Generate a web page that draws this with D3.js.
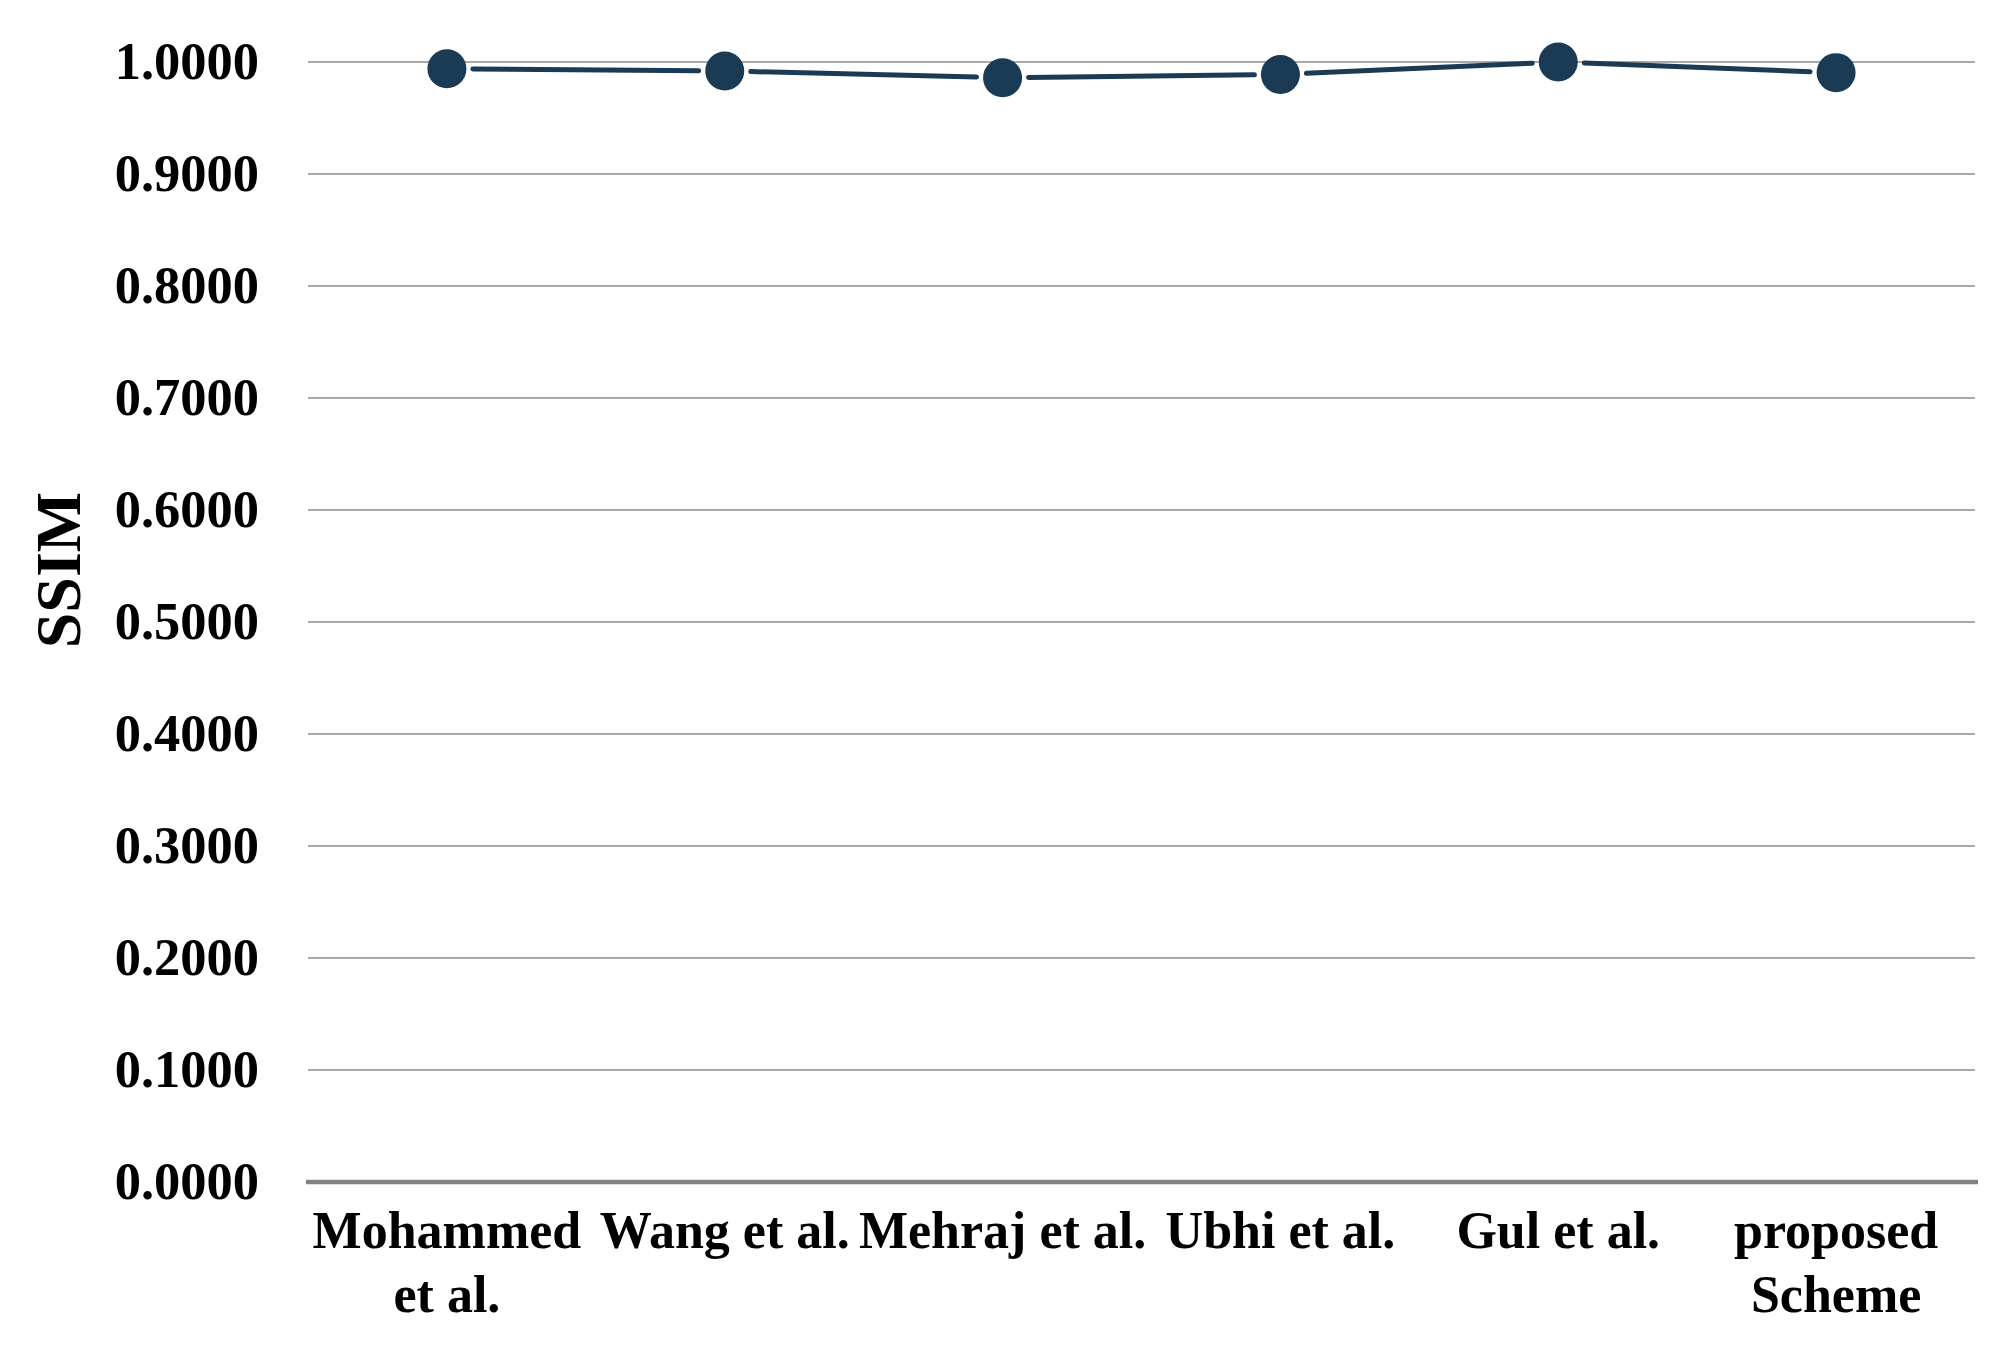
<!DOCTYPE html>
<html>
<head>
<meta charset="utf-8">
<script src="https://cdn.jsdelivr.net/npm/d3@7"></script>
<style>
  html, body { margin: 0; padding: 0; background: #ffffff; }
  svg { display: block; }
</style>
</head>
<body>
<script>
// ---- data ----
const categories = ["Mohammed et al.", "Wang et al.", "Mehraj et al.", "Ubhi et al.", "Gul et al.", "proposed Scheme"];
const ssimValues = [0.9940, 0.9920, 0.9860, 0.9888, 1.0000, 0.9905];
const yTicks = [0, 0.1, 0.2, 0.3, 0.4, 0.5, 0.6, 0.7, 0.8, 0.9, 1.0];
const yAxisTitle = "SSIM";

// ---- layout ----
const W = 2012, H = 1352;
const plotLeft = 308, plotRight = 1975, plotTop = 62, plotBottom = 1182;
const color = "#1b3a54";
const font = "'Liberation Serif', 'Times New Roman', serif";

const svg = d3.select("body").append("svg").attr("width", W).attr("height", H);

const x = d3.scaleBand().domain(categories).range([plotLeft, plotRight]).padding(0);
const y = d3.scaleLinear().domain([0, 1]).range([plotBottom, plotTop]);

// gridlines
svg.append("g").selectAll("line").data(yTicks.filter(d => d > 0)).join("line")
  .attr("x1", plotLeft).attr("x2", plotRight)
  .attr("y1", d => y(d)).attr("y2", d => y(d))
  .attr("stroke", "#8c8c8c").attr("stroke-width", 1.3);

// y axis via d3.axisLeft (labels only)
const yAxis = d3.axisLeft(y).tickValues(yTicks).tickFormat(d3.format(".4f")).tickSize(0).tickPadding(0);
const gy = svg.append("g").attr("transform", `translate(259,0)`).call(yAxis);
gy.select(".domain").remove();
gy.selectAll("text")
  .attr("font-family", font).attr("font-weight", "bold").attr("font-size", 52.5)
  .attr("fill", "#000").attr("dy", "0.31em");

// x axis line
svg.append("line")
  .attr("x1", plotLeft - 2).attr("x2", plotRight + 3)
  .attr("y1", y(0)).attr("y2", y(0))
  .attr("stroke", "#828282").attr("stroke-width", 4.5);

// x axis labels via d3.axisBottom
const xAxis = d3.axisBottom(x).tickSize(0).tickPadding(0);
const gx = svg.append("g").attr("transform", `translate(0,${plotBottom})`).call(xAxis);
gx.select(".domain").remove();
gx.selectAll("text").each(function(d) {
  const t = d3.select(this);
  t.text(null).attr("y", 0).attr("dy", null)
    .attr("font-family", font).attr("font-weight", "bold").attr("font-size", 52).attr("fill", "#000");
  const words = d.split(" ");
  const lines = [];
  let cur = [];
  const meas = svg.append("text").attr("font-family", font).attr("font-weight", "bold").attr("font-size", 52);
  words.forEach(w => {
    const test = cur.concat([w]).join(" ");
    meas.text(test);
    if (cur.length && meas.node().getComputedTextLength() > 310) {
      lines.push(cur.join(" "));
      cur = [w];
    } else cur.push(w);
  });
  lines.push(cur.join(" "));
  meas.remove();
  lines.forEach((ln, i) => {
    t.append("tspan").attr("x", 0).attr("y", 66 + i * 64).text(ln);
  });
});

// y axis title
svg.append("text")
  .attr("transform", `translate(80,570) rotate(-90)`)
  .attr("text-anchor", "middle")
  .attr("font-family", font).attr("font-weight", "bold").attr("font-size", 64)
  .attr("fill", "#000").text(yAxisTitle);

// line segments (with small gaps at markers)
const pts = categories.map((c, i) => [x(c) + x.bandwidth() / 2, y(ssimValues[i])]);
const gap = 26;
const segs = d3.pairs(pts).map(([a, b]) => {
  const dx = b[0] - a[0], dy = b[1] - a[1];
  const L = Math.hypot(dx, dy);
  const ux = dx / L, uy = dy / L;
  return [[a[0] + ux * gap, a[1] + uy * gap], [b[0] - ux * gap, b[1] - uy * gap]];
});
const lineGen = d3.line();
svg.append("g").selectAll("path").data(segs).join("path")
  .attr("d", d => lineGen(d))
  .attr("fill", "none").attr("stroke", color).attr("stroke-width", 5).attr("stroke-linecap", "round");

// markers
svg.append("g").selectAll("circle").data(ssimValues).join("circle")
  .attr("cx", (d, i) => x(categories[i]) + x.bandwidth() / 2)
  .attr("cy", d => y(d))
  .attr("r", 19.5)
  .attr("fill", color);
</script>
</body>
</html>
